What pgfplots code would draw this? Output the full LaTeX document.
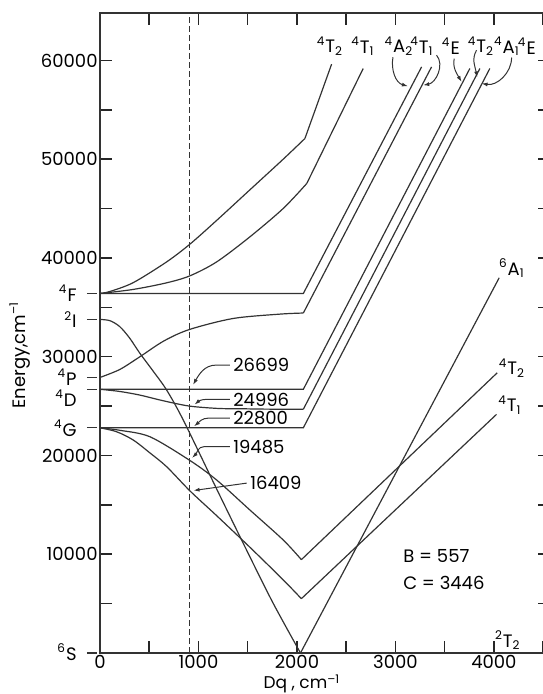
\documentclass[border=0pt]{standalone}
\usepackage{fontspec}
\setmainfont{Poppins}
\usepackage{pgfplots}
\pgfplotsset{compat=1.18}
\usetikzlibrary{calc,arrows.meta}
\newcommand{\tsup}[1]{\textsuperscript{#1}}
\newcommand{\tsub}[1]{\textsubscript{#1}}
\newcommand{\termdash}[1]{\draw[black!80, line width=0.6pt] ([xshift=-6.5pt]axis cs:0,#1) -- ([xshift=-1.5pt]axis cs:0,#1);}
\begin{document}
\begin{tikzpicture}[font=\fontsize{9}{10}\selectfont]
\begin{axis}[
  name=ax, scale only axis, width=225pt, height=320pt,
  xmin=0, xmax=4570, ymin=0, ymax=64800,
  clip=false,
  xtick={0,1000,2000,3000,4000},
  minor xtick={500,1500,2500,3500,4500},
  ytick={10000,20000,30000,40000,50000,60000},
  minor ytick={5000,15000,25000,35000,45000,55000},
  scaled ticks=false,
  /pgf/number format/1000 sep={},
  /pgf/number format/assume math mode=true,
  tick align=inside,
  major tick length=6pt, minor tick length=6pt,
  every tick/.style={black!85, line width=0.75pt},
  every minor tick/.style={black!85, line width=0.75pt},
  axis line style={black!80, line width=0.7pt},
  yticklabel style={inner sep=1pt},
  xticklabel style={inner sep=1pt},
  cycle list={{black!80,solid}},
  every axis plot/.append style={black!80, line width=0.6pt, no markers},
]
% dashed line at Dq = 910
\addplot[black!80, dash pattern=on 3pt off 1.5pt, line width=0.5pt] coordinates {(910,0) (910,64800)};
% 2T2 (from 2I) then 6A1 rising
\addplot+[smooth] coordinates {(0,33770) (100,33650) (200,33050) (300,31900) (406,30330) (550,28400) (677,26620) (846,23580) (1185,16600) (1455,11100) (1750,5200) (2036,0)};
\addplot coordinates {(2036,0) (4054,37990)};
% 4T1 lower
\addplot+[smooth] coordinates {(0,22800) (169,22400) (338,21560) (508,20250) (677,18860) (914,16409) (1185,13900) (1523,10700) (1861,7400) (2045,5500)};
\addplot coordinates {(2045,5500) (4027,24160)};
% 4T2 lower
\addplot+[smooth] coordinates {(0,22800) (200,22550) (508,21890) (914,19485) (1185,17510) (1523,14470) (1861,11440) (2045,9450)};
\addplot coordinates {(2045,9450) (4034,28370)};
% 4A1,4E from 4G
\addplot coordinates {(0,22800) (2065,22800) (3959,59180)};
% 4T2 from 4D
\addplot+[smooth] coordinates {(0,26699) (200,26480) (406,26110) (650,25520) (910,24996) (1200,24760) (1421,24730) (1700,24690) (2065,24680)};
\addplot coordinates {(2065,24680) (3858,59180)};
% 4E from 4D
\addplot coordinates {(0,26699) (2065,26699) (3756,59180)};
% 4T1 from 4P
\addplot+[smooth] coordinates {(0,27900) (200,28700) (406,30000) (650,31600) (910,32760) (1353,33870) (1827,34310) (2065,34420)};
\addplot coordinates {(2065,34420) (3367,59340)};
% 4A2 from 4F
\addplot coordinates {(0,36400) (2065,36400) (3266,59340)};
% 4T1 upper
\addplot+[smooth] coordinates {(0,36400) (338,36810) (677,37480) (914,38190) (1185,39600) (1523,42140) (1861,45010) (2100,47540)};
\addplot coordinates {(2100,47540) (2673,59180)};
% 4T2 upper
\addplot+[smooth] coordinates {(0,36400) (100,36600) (338,37500) (677,39600) (914,41400) (1185,43800) (1523,46900) (1861,50000) (2081,52090)};
\addplot coordinates {(2081,52090) (2352,59615)};

% term symbols on the left
\termdash{36400}
\termdash{33770}
\termdash{27900}
\termdash{26699}
\termdash{22800}
\termdash{0}
\node[anchor=east, inner sep=0] at ([xshift=-11.5pt]axis cs:0,36400) {\tsup{4}F};
\node[anchor=east, inner sep=0] at ([xshift=-11.5pt]axis cs:0,33770) {\tsup{2}I};
\node[anchor=east, inner sep=0] at ([xshift=-11.5pt]axis cs:0,27950) {\tsup{4}P};
\node[anchor=east, inner sep=0] at ([xshift=-11.5pt]axis cs:0,25800) {\tsup{4}D};
\node[anchor=east, inner sep=0] at ([xshift=-11.5pt]axis cs:0,22750) {\tsup{4}G};
\node[anchor=east, inner sep=0] at ([xshift=-11.5pt]axis cs:0,100) {\tsup{6}S};

% axis labels
\node[rotate=90] at ([xshift=-40pt]axis cs:0,30160) {Energy,cm\tsup{–1}};
\node[inner sep=0, font=\fontsize{8.5}{9}\selectfont] at ([yshift=-15.5pt]axis cs:2050,0) {Dq , cm\tsup{–1}};

% values on the dashed line
\node[anchor=west, inner sep=0] at (axis cs:1350,29150) {26699};
\node[anchor=west, inner sep=0] at (axis cs:1350,25640) {24996};
\node[anchor=west, inner sep=0] at (axis cs:1350,23760) {22800};
\node[anchor=west, inner sep=0] at (axis cs:1350,20880) {19485};
\node[anchor=west, inner sep=0] at (axis cs:1523,17180) {16409};
\begin{scope}[black!80, line width=0.5pt, -{Latex[length=3pt,width=2pt]}]
\draw (axis cs:1320,29150) -- (axis cs:1180,29150) to[out=180,in=60] (axis cs:945,27150);
\draw (axis cs:1320,25680) -- (axis cs:1080,25680) to[out=180,in=40] (axis cs:960,25150);
\draw (axis cs:1320,23780) -- (axis cs:1100,23780) to[out=180,in=40] (axis cs:955,22950);
\draw (axis cs:1320,20900) -- (axis cs:1060,20900) to[out=180,in=45] (axis cs:935,19750);
\draw (axis cs:1490,17200) -- (axis cs:950,16450);
\end{scope}

% B, C
\node[anchor=west, inner sep=0] at (axis cs:3076,9818) {B = 557};
\node[anchor=west, inner sep=0] at (axis cs:3076,7085) {C = 3446};
\node at (axis cs:4142,1300) {\tsup{2}T\tsub{2}};

% right labels
\node at (axis cs:4183,38970) {\tsup{6}A\tsub{1}};
\node at (axis cs:4183,28850) {\tsup{4}T\tsub{2}};
\node at (axis cs:4162,25100) {\tsup{4}T\tsub{1}};

% top labels
\node at (axis cs:2335,61440) {\tsup{4}T\tsub{2}};
\node at (axis cs:2670,61440) {\tsup{4}T\tsub{1}};
\node at (axis cs:3036,61440) {\tsup{4}A\tsub{2}};
\node at (axis cs:3269,61440) {\tsup{4}T\tsub{1}};
\node at (axis cs:3563,61440) {\tsup{4}E};
\node at (axis cs:3868,61440) {\tsup{4}T\tsub{2}};
\node at (axis cs:4132,61440) {\tsup{4}A\tsub{1}};
\node at (axis cs:4335,61440) {\tsup{4}E};
\begin{scope}[black!80, line width=0.5pt, -{Latex[length=3pt,width=2pt]}]
\draw (axis cs:2975,60320) to[out=-100,in=165] (axis cs:3127,57390);
\draw (axis cs:3418,60530) to[out=-50,in=10] (axis cs:3282,57490);
\draw (axis cs:3597,60180) to[out=-100,in=120] (axis cs:3672,57820);
\draw (axis cs:3824,61030) to[out=-120,in=100] (axis cs:3830,58270);
\draw (axis cs:4180,60290) to[out=-90,in=-10] (axis cs:3875,57660);
\end{scope}
\end{axis}
\pgfresetboundingbox
\path[use as bounding box] ($(ax.south west)+(-50pt,-20.5pt)$) rectangle ($(ax.south west)+(221pt,326.5pt)$);
\end{tikzpicture}
\end{document}
